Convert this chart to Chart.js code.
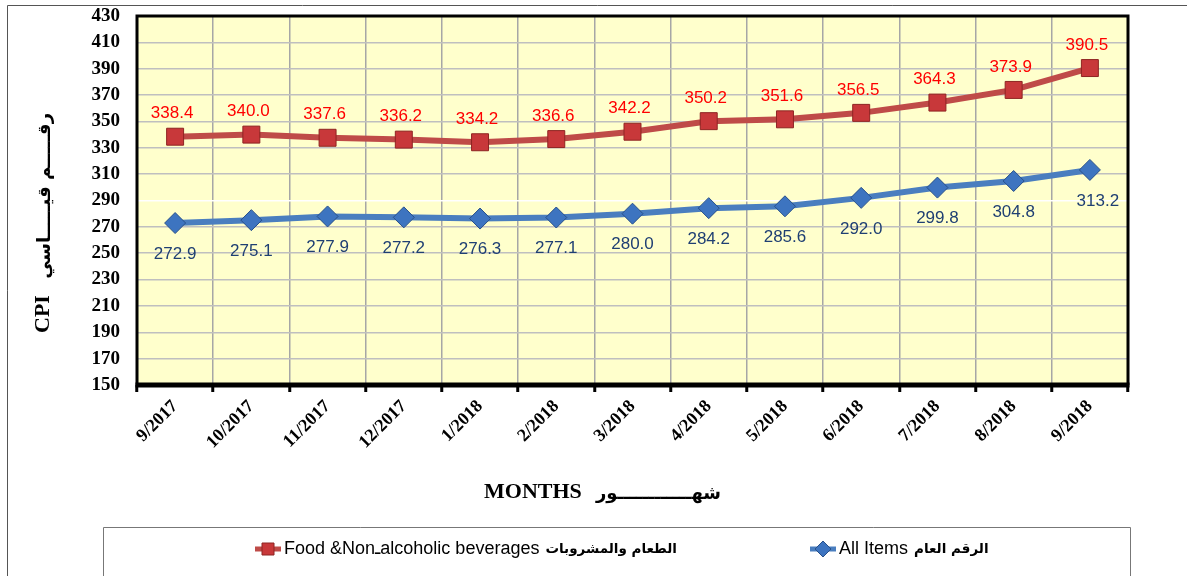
<!DOCTYPE html>
<html>
<head>
<meta charset="utf-8">
<script src="https://cdn.jsdelivr.net/npm/chart.js@4.4.1/dist/chart.umd.min.js"></script>
<style>
  html, body { margin: 0; padding: 0; background: #fff; }
  #wrap { position: relative; width: 1187px; height: 576px; }
  canvas { display: block; }
</style>
</head>
<body>
<div id="wrap"><canvas id="c" width="1187" height="576"></canvas></div>
<script>
// ---- data ----
const months = ["9/2017","10/2017","11/2017","12/2017","1/2018","2/2018","3/2018","4/2018","5/2018","6/2018","7/2018","8/2018","9/2018"];
const foodValues = [338.4, 340.0, 337.6, 336.2, 334.2, 336.6, 342.2, 350.2, 351.6, 356.5, 364.3, 373.9, 390.5];
const allItemsValues = [272.9, 275.1, 277.9, 277.2, 276.3, 277.1, 280.0, 284.2, 285.6, 292.0, 299.8, 304.8, 313.2];
const foodLabel = "Food &Non\u0640alcoholic beverages";
const foodLabelAr = "الطعام والمشروبات";
const allLabel = "All Items";
const allLabelAr = "الرقم العام";
const yTitleEn = "CPI";
const yTitleAr = "رقـــــم قيـــــاسي";
const xTitleEn = "MONTHS";
const xTitleAr = "شهــــــــــــور";
const yMin = 150, yMax = 430, yStep = 20;

const SERIF = "'Liberation Serif','Times New Roman','DejaVu Serif',serif";
const SANS = "'Liberation Sans',Arial,'DejaVu Sans',sans-serif";
const AR = "'DejaVu Sans',sans-serif";

const RED_LINE = '#BF4B48', RED_PT = '#C8383A', RED_PT_B = '#8E2422';
const BLUE_LINE = '#4A7EBF', BLUE_PT = '#3D74C0', BLUE_PT_B = '#28508A';

const framePlugin = {
  id: 'frame',
  beforeDraw(chart) {
    const {ctx, chartArea: a} = chart;
    ctx.save();
    ctx.fillStyle = '#FFFFCC';
    ctx.fillRect(a.left, a.top, a.right - a.left, a.bottom - a.top);
    ctx.restore();
  },
  beforeDatasetsDraw(chart) {
    const {ctx, chartArea: a} = chart;
    ctx.save();
    ctx.strokeStyle = '#000';
    ctx.lineWidth = 3;
    ctx.beginPath();
    ctx.moveTo(a.left, a.bottom);
    ctx.lineTo(a.left, a.top);
    ctx.lineTo(a.right, a.top);
    ctx.lineTo(a.right, a.bottom);
    ctx.stroke();
    ctx.lineWidth = 5;
    ctx.beginPath();
    ctx.moveTo(a.left - 1.5, a.bottom);
    ctx.lineTo(a.right + 1.5, a.bottom);
    ctx.stroke();
    ctx.restore();
  },
  afterDraw(chart) {
    const {ctx} = chart;
    ctx.save();
    // outer frame lines
    ctx.strokeStyle = '#555';
    ctx.lineWidth = 1;
    ctx.beginPath();
    ctx.moveTo(7.5, 576); ctx.lineTo(7.5, 5.5); ctx.lineTo(1187, 5.5);
    ctx.stroke();
    // legend box
    ctx.strokeStyle = '#777';
    ctx.beginPath();
    ctx.moveTo(103.5, 577); ctx.lineTo(103.5, 527.5); ctx.lineTo(1130.5, 527.5); ctx.lineTo(1130.5, 577);
    ctx.stroke();

    // axis titles
    ctx.fillStyle = '#000';
    ctx.textBaseline = 'middle';
    // x title
    ctx.font = 'bold 22px ' + SERIF;
    ctx.textAlign = 'left';
    ctx.fillText(xTitleEn, 484, 492);
    ctx.font = 'bold 18px ' + AR;
    ctx.direction = 'rtl';
    ctx.textAlign = 'right';
    ctx.fillText(xTitleAr, 721, 494);
    ctx.direction = 'ltr';
    // y title (rotated)
    ctx.save();
    ctx.translate(43, 0);
    ctx.rotate(-Math.PI / 2);
    ctx.font = 'bold 22px ' + SERIF;
    ctx.textAlign = 'left';
    ctx.fillText(yTitleEn, -333, 0);
    ctx.font = 'bold 18px ' + AR;
    ctx.direction = 'rtl';
    ctx.textAlign = 'right';
    ctx.fillText(yTitleAr, -113, 2);
    ctx.restore();

    // legend entries
    const drawEntry = (x0, color, ptColor, ptBorder, style, en, ar) => {
      const y = 549;
      ctx.save();
      ctx.strokeStyle = color;
      ctx.lineWidth = 5;
      ctx.beginPath(); ctx.moveTo(x0, y); ctx.lineTo(x0 + 26, y); ctx.stroke();
      ctx.fillStyle = ptColor; ctx.strokeStyle = ptBorder; ctx.lineWidth = 1;
      const cx = x0 + 13;
      ctx.beginPath();
      if (style === 'rect') { ctx.rect(cx - 6, y - 6, 12, 12); }
      else { ctx.moveTo(cx, y - 8); ctx.lineTo(cx + 8, y); ctx.lineTo(cx, y + 8); ctx.lineTo(cx - 8, y); ctx.closePath(); }
      ctx.fill(); ctx.stroke();
      ctx.fillStyle = '#000';
      ctx.textBaseline = 'middle';
      ctx.textAlign = 'left';
      ctx.font = '18px ' + SANS;
      ctx.fillText(en, x0 + 29, y);
      const w = ctx.measureText(en).width;
      ctx.font = 'bold 13.5px ' + AR;
      ctx.fillText(ar, x0 + 29 + w + 6, y);
      ctx.restore();
    };
    drawEntry(255, RED_LINE, RED_PT, RED_PT_B, 'rect', foodLabel, foodLabelAr);
    drawEntry(810, BLUE_LINE, BLUE_PT, BLUE_PT_B, 'rectRot', allLabel, allLabelAr);
    ctx.restore();
  }
};

const valueLabelPlugin = {
  id: 'valueLabels',
  afterDatasetsDraw(chart) {
    const {ctx} = chart;
    ctx.save();
    ctx.font = '17px ' + SANS;
    ctx.textAlign = 'center';
    ctx.textBaseline = 'middle';
    chart.data.datasets.forEach((ds, di) => {
      const meta = chart.getDatasetMeta(di);
      meta.data.forEach((pt, i) => {
        const v = ds.data[i];
        const txt = v.toFixed(1);
        if (di === 0) {
          ctx.fillStyle = '#FF0000';
          ctx.fillText(txt, pt.x - 3, pt.y - 23);
        } else {
          ctx.fillStyle = '#1F3F73';
          const dx = (i === ds.data.length - 1) ? 8 : 0;
          ctx.fillText(txt, pt.x + dx, pt.y + 31);
        }
      });
    });
    ctx.restore();
  }
};

new Chart(document.getElementById('c'), {
  type: 'line',
  data: {
    labels: months,
    datasets: [
      {
        label: foodLabel + ' ' + foodLabelAr,
        data: foodValues,
        borderColor: RED_LINE,
        borderWidth: 6,
        pointStyle: 'rect',
        pointRadius: 12,
        pointBackgroundColor: RED_PT,
        pointBorderColor: RED_PT_B,
        pointBorderWidth: 1,
        tension: 0,
        fill: false
      },
      {
        label: allLabel + ' ' + allLabelAr,
        data: allItemsValues,
        borderColor: BLUE_LINE,
        borderWidth: 6,
        pointStyle: 'rectRot',
        pointRadius: 10.5,
        pointBackgroundColor: BLUE_PT,
        pointBorderColor: BLUE_PT_B,
        pointBorderWidth: 1,
        tension: 0,
        fill: false
      }
    ]
  },
  options: {
    responsive: false,
    animation: false,
    devicePixelRatio: 1,
    layout: { padding: { top: 16, right: 59, bottom: 72, left: 0 } },
    plugins: { legend: { display: false }, tooltip: { enabled: false } },
    scales: {
      x: {
        type: 'category',
        offset: true,
        grid: {
          offset: true,
          color: '#A6A6A6',
          lineWidth: 1.5,
          drawTicks: true,
          tickLength: 7,
          tickColor: '#000',
          tickWidth: 3
        },
        border: { display: false },
        ticks: {
          color: '#000',
          font: { family: SERIF, size: 18, weight: 'bold' },
          minRotation: 45,
          maxRotation: 45,
          padding: 4,
          autoSkip: false
        },
        afterFit(s) { s.height = 119; s.paddingLeft = 0; s.paddingRight = 0; }
      },
      y: {
        min: yMin,
        max: yMax,
        grid: {
          color: (c) => (c.tick && c.tick.value === 290) ? '#FFFFFF' : '#BFBFBF',
          lineWidth: 1.5,
          drawTicks: false
        },
        border: { display: false },
        ticks: {
          stepSize: yStep,
          autoSkip: false,
          color: '#000',
          font: { family: SERIF, size: 19, weight: 'bold' },
          padding: 17
        },
        afterFit(s) { s.width = 137; s.paddingTop = 0; s.paddingBottom = 0; }
      }
    }
  },
  plugins: [framePlugin, valueLabelPlugin]
});
</script>
</body>
</html>
